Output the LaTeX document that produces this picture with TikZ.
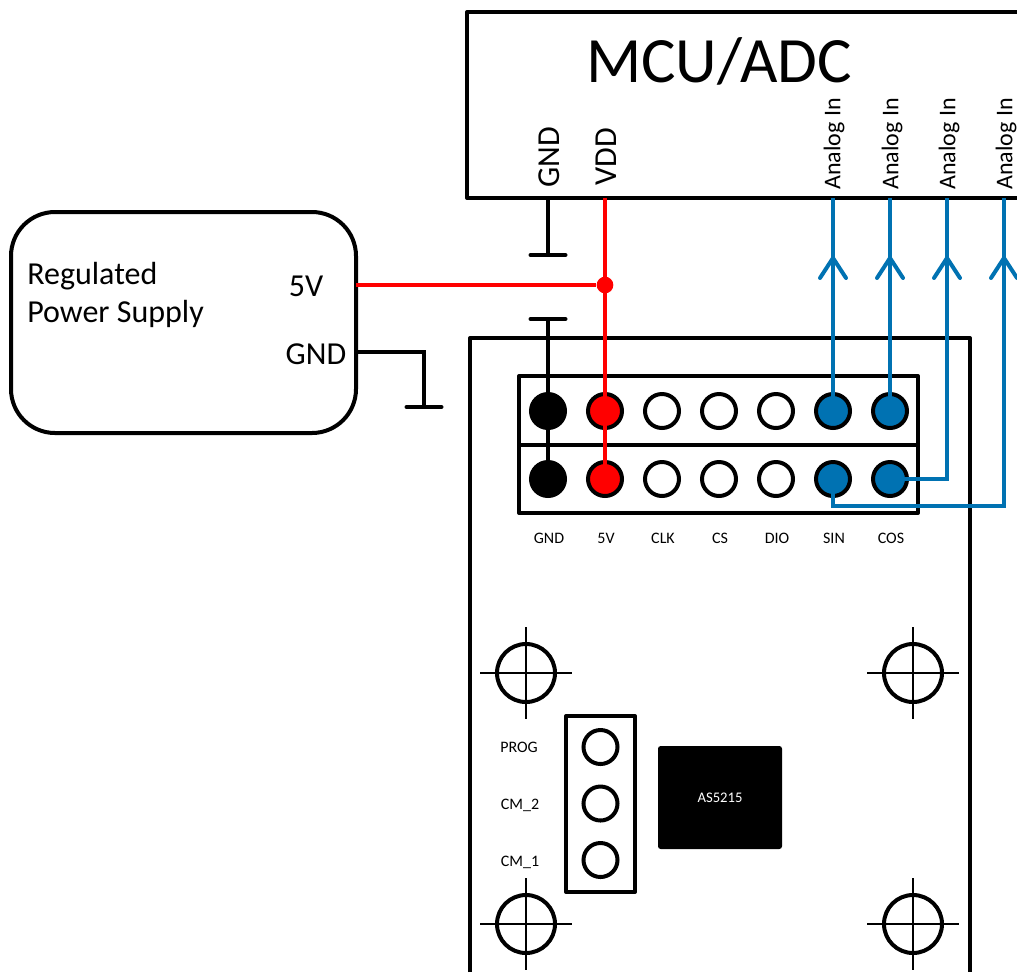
\documentclass[tikz,border=0pt]{standalone}
\usepackage{fontspec}
\setmainfont{Carlito}
\definecolor{wireblue}{RGB}{0,114,178}
\begin{document}
\begin{tikzpicture}[x=0.75pt,y=-0.75pt]
  \tikzset{BoxStyle/.style    = {line width = 3pt,
                                 line join  = round}}
  \tikzset{PinStyle/.style    = {shape        = circle,
                                 draw,
                                 fill         = white,
                                 line width   = 3pt,
                                 inner sep    = 0pt,
                                 outer sep    = 0pt,
                                 minimum size = 25.5pt}}
  \tikzset{HoleStyle/.style   = {shape        = circle,
                                 draw,
                                 line width   = 3pt,
                                 inner sep    = 0pt,
                                 outer sep    = 0pt,
                                 minimum size = 43.5pt}}
  \tikzset{WireBlack/.style   = {line width = 3pt}}
  \tikzset{BarBlack/.style    = {line width = 3pt, line cap = round}}
  \tikzset{WireRed/.style     = {line width = 3pt, red}}
  \tikzset{WireBlue/.style    = {line width = 3pt, wireblue}}
  \tikzset{CrossStyle/.style  = {line width = 1.5pt}}
  \tikzset{SmallLabel/.style  = {inner sep = 0pt, font = \fontsize{12}{14}\selectfont}}
  \tikzset{BigLabel/.style    = {inner sep = 0pt, font = \fontsize{24}{28}\selectfont}}
  \tikzset{AnalogLabel/.style = {inner sep = 0pt, rotate = 90, font = \fontsize{18}{20}\selectfont}}

\useasboundingbox (0,0) rectangle (1017,972);

% mcu and board outlines
\coordinate (McuTR) at (1017,12);
\coordinate (McuTL) at (467,12);
\coordinate (McuBL) at (467,198);
\coordinate (McuBR) at (1017,198);
\coordinate (BoardBL) at (470,972);
\coordinate (BoardTL) at (470,338);
\coordinate (BoardTR) at (970,338);
\coordinate (BoardBR) at (970,972);

\draw[BoxStyle] (McuTR) -- (McuTL) -- (McuBL) -- (McuBR);
\draw[BoxStyle] (BoardBL) -- (BoardTL) -- (BoardTR) -- (BoardBR);

\node[draw,BoxStyle,rounded corners=33pt,minimum width=258.75pt,minimum height=165.75pt,
      inner sep=0pt,outer sep=0pt] (Supply) at (183.5,322.5) {};

\draw[BoxStyle] (519,376) rectangle (918,513);
\draw[BoxStyle] (519,445) -- (918,445);
\draw[BoxStyle] (566,716) rectangle (635,892);

\node[fill=black,rounded corners=2pt,minimum width=93pt,minimum height=77.25pt,inner sep=0pt] (Chip) at (720,797.5) {};
\node[inner sep=0pt,white,font=\fontsize{11}{13}\selectfont] (ChipName) at (720,798) {AS5215};

% header pins
\node[PinStyle,fill=black]    (U1) at (548,411) {};
\node[PinStyle,fill=red]      (U2) at (605,411) {};
\node[PinStyle]               (U3) at (662,411) {};
\node[PinStyle]               (U4) at (719,411) {};
\node[PinStyle]               (U5) at (776,411) {};
\node[PinStyle,fill=wireblue] (U6) at (833,411) {};
\node[PinStyle,fill=wireblue] (U7) at (890,411) {};
\node[PinStyle,fill=black]    (L1) at (548,479) {};
\node[PinStyle,fill=red]      (L2) at (605,479) {};
\node[PinStyle]               (L3) at (662,479) {};
\node[PinStyle]               (L4) at (719,479) {};
\node[PinStyle]               (L5) at (776,479) {};
\node[PinStyle,fill=wireblue] (L6) at (833,479) {};
\node[PinStyle,fill=wireblue] (L7) at (890,479) {};

% jumper pins
\node[PinStyle] (J1) at (600.5,747) {};
\node[PinStyle] (J2) at (600.5,803.5) {};
\node[PinStyle] (J3) at (600.5,860) {};

% mounting holes
\node[HoleStyle] (H1) at (526,673) {};
\node[HoleStyle] (H2) at (913,673) {};
\node[HoleStyle] (H3) at (526,924) {};
\node[HoleStyle] (H4) at (913,924) {};
\draw[CrossStyle] (H1.center) ++(-46,0) -- ++(92,0);
\draw[CrossStyle] (H1.center) ++(0,-46) -- ++(0,92);
\draw[CrossStyle] (H2.center) ++(-46,0) -- ++(92,0);
\draw[CrossStyle] (H2.center) ++(0,-46) -- ++(0,92);
\draw[CrossStyle] (H3.center) ++(-46,0) -- ++(92,0);
\draw[CrossStyle] (H3.center) ++(0,-46) -- ++(0,92);
\draw[CrossStyle] (H4.center) ++(-46,0) -- ++(92,0);
\draw[CrossStyle] (H4.center) ++(0,-46) -- ++(0,92);

% wires
\coordinate (McuGnd) at (548,198);
\coordinate (McuGndEnd) at (548,255);
\coordinate (McuVdd) at (605,198);
\coordinate (BoardGnd) at (548,319);
\coordinate (Supply5V) at (356,285);
\coordinate (SupplyGnd) at (356,352);
\coordinate (SupplyGndEnd) at (424,407);
\coordinate (A1) at (833,198);
\coordinate (A2) at (890,198);
\coordinate (A3) at (947,198);
\coordinate (A4) at (1004,198);
\coordinate (T1) at (833,258);
\coordinate (T2) at (890,258);
\coordinate (T3) at (947,258);
\coordinate (T4) at (1004,258);

\node[fill=red,circle,inner sep=0pt,minimum size=12.5pt] (Join) at (605,285) {};

\draw[WireBlack] (McuGnd) -- (McuGndEnd);
\draw[BarBlack] (McuGndEnd) ++(-17.5,0) -- ++(35,0);
\draw[WireBlack] (BoardGnd) -- (L1.center);
\draw[BarBlack] (BoardGnd) ++(-17.5,0) -- ++(35,0);
\draw[WireBlack] (SupplyGnd) -| (SupplyGndEnd);
\draw[BarBlack] (SupplyGndEnd) ++(-17.5,0) -- ++(35,0);

\draw[WireRed] (McuVdd) -- (L2.center);
\draw[WireRed] (Supply5V) -- (Join);

\draw[WireBlue] (A1) -- (U6.center);
\draw[WireBlue] (A2) -- (U7.center);
\draw[WireBlue] (A3) |- (L7.center);
\draw[WireBlue] (A4) -- (1004,506) -- (833,506) -- (L6.center);
\draw[WireBlue,line cap=round] (T1) ++(-13,20) -- ++(13,-20) -- ++(13,20);
\draw[WireBlue,line cap=round] (T2) ++(-13,20) -- ++(13,-20) -- ++(13,20);
\draw[WireBlue,line cap=round] (T3) ++(-13,20) -- ++(13,-20) -- ++(13,20);
\draw[WireBlue,line cap=round] (T4) ++(-13,20) -- ++(13,-20) -- ++(13,20);

% labels
\node[inner sep=0pt,font=\fontsize{48.5}{52}\selectfont] (McuName) at (719,61) {MCU/ADC};
\node[BigLabel,rotate=90] (McuGndName) at (549,157) {GND};
\node[BigLabel,rotate=90] (McuVddName) at (606,157) {VDD};
\node[AnalogLabel] (AnalogA) at (834,144) {Analog In};
\node[AnalogLabel] (AnalogB) at (892,144) {Analog In};
\node[AnalogLabel] (AnalogC) at (949,144) {Analog In};
\node[AnalogLabel] (AnalogD) at (1006,144) {Analog In};

\node[BigLabel,anchor=west] (SupplyA) at (27,276) {Regulated};
\node[BigLabel,anchor=west] (SupplyB) at (27,314) {Power Supply};
\node[BigLabel] (SupplyC) at (306,286) {5V};
\node[BigLabel] (SupplyD) at (316,354) {GND};

\node[SmallLabel] (NameA) at (549,538.5) {GND};
\node[SmallLabel] (NameB) at (606,538.5) {5V};
\node[SmallLabel] (NameC) at (663,538.5) {CLK};
\node[SmallLabel] (NameD) at (720,538.5) {CS};
\node[SmallLabel] (NameE) at (777,538.5) {DIO};
\node[SmallLabel] (NameF) at (834,538.5) {SIN};
\node[SmallLabel] (NameG) at (891,538.5) {COS};
\node[SmallLabel] (NameH) at (519,747.5) {PROG};
\node[SmallLabel] (NameI) at (520,805) {CM\_2};
\node[SmallLabel] (NameJ) at (520,862.5) {CM\_1};

\end{tikzpicture}
\end{document}
